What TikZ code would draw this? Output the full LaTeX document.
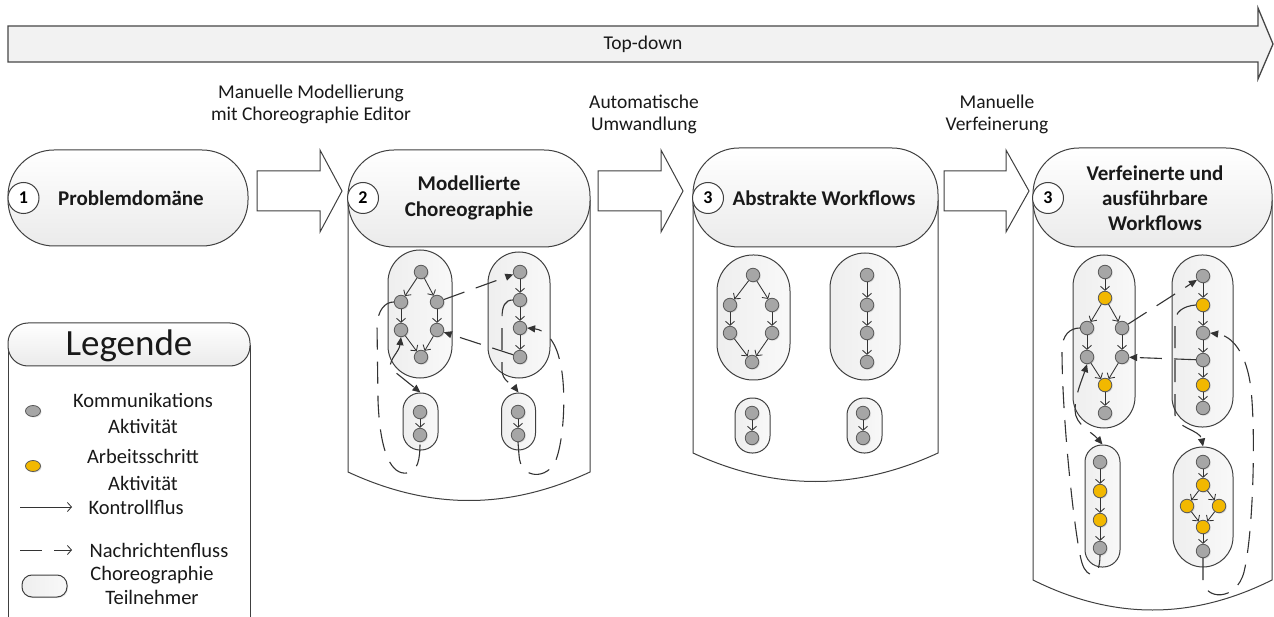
\documentclass[tikz,border=0pt]{standalone}
\usepackage{fontspec}
\setmainfont{Carlito}
\usetikzlibrary{arrows.meta,shadows,shapes.geometric}

\definecolor{edge}{HTML}{404040}
\definecolor{actgray}{HTML}{A6A6A6}
\definecolor{actgold}{HTML}{F2B800}
\definecolor{barfill}{HTML}{F2F2F2}

\begin{document}
\begin{tikzpicture}[x=1pt,y=-1pt,
  outline/.style={draw=edge,line width=1pt},
  panelbody/.style={outline,fill=white},
  headbox/.style={outline,rectangle,top color=white,bottom color=gray!16,inner sep=0pt},
  headtxt/.style={font=\bfseries\fontsize{21}{26}\selectfont,align=center,text=black!90},
  plaintxt/.style={font=\fontsize{19.5}{22}\selectfont,align=center,text=black!90},
  legtxt/.style={font=\fontsize{20.5}{26.5}\selectfont,align=center,text=black!90},
  numcirc/.style={outline,circle,fill=white,minimum size=31pt,inner sep=0pt,
    font=\bfseries\fontsize{18}{18}\selectfont},
  part/.style={outline,rectangle,left color=gray!13,right color=gray!5,inner sep=0pt},
  act/.style={circle,draw=black!65,line width=0.8pt,fill=actgray,minimum size=13.5pt,inner sep=0pt,
    drop shadow={opacity=0.25,shadow xshift=1pt,shadow yshift=-1pt}},
  work/.style={act,fill=actgold},
  cf/.style={draw=black!80,line width=0.85pt,-{Straight Barb[length=4pt,width=9pt]}},
  mf/.style={draw=black!80,line width=1.1pt,dash pattern=on 22pt off 12pt,
    -{Triangle[length=8pt,width=7pt]}},
  mfb/.style={mf,{Triangle[length=8pt,width=7pt]}-{Triangle[length=8pt,width=7pt]}},
  mfn/.style={mf,-},
  blockarrow/.style={outline,fill=white,line join=miter},
]
\useasboundingbox (0,0) rectangle (1274,617);
\fill[white] (0,0) rectangle (1274,617);

% ---------- top-down bar ----------
\draw[draw=gray!55!black,line width=1.3pt,fill=barfill,line join=miter]
  (8,26) -- (1258,26) -- (1258,8) -- (1273,44) -- (1258,79) -- (1258,62) -- (8,62) -- cycle;
\node[plaintxt] (topdown) at (643,44) {Top-down};

% ---------- step labels ----------
\node[plaintxt] (lab1) at (311,104) {Manuelle Modellierung\\mit Choreographie Editor};
\node[plaintxt] (lab2) at (644,114) {Automatische\\Umwandlung};
\node[plaintxt] (lab3) at (997,114) {Manuelle\\Verfeinerung};

% ---------- block arrows between the stages ----------
\draw[blockarrow] (257,171) -- (320,171) -- (320,150) -- (342,191) -- (320,232) -- (320,211) -- (257,211) -- cycle;
\draw[blockarrow] (598,171) -- (661,171) -- (661,150) -- (683,191) -- (661,232) -- (661,211) -- (598,211) -- cycle;
\draw[blockarrow] (944,171) -- (1006,171) -- (1006,150) -- (1029,191) -- (1006,232) -- (1006,211) -- (944,211) -- cycle;

% ---------- stage 1 ----------
\node[headbox,rounded corners=46pt,minimum width=240pt,minimum height=96pt] (h1) at (128,198) {};
\node[numcirc] (n1) at (23.5,198) {1};
\node[headtxt] (t1) at (131,198) {Problemdomäne};

% ---------- stage containers ----------
\draw[panelbody] (348,200) -- (348,472) .. controls (430,510) and (508,510) .. (590,472) -- (590,200);
\draw[panelbody] (693,200) -- (693,453) .. controls (775,491) and (856,491) .. (938,453) -- (938,200);
\draw[panelbody] (1033,200) -- (1033,580) .. controls (1113,620) and (1192,620) .. (1272,580) -- (1272,200);

\node[headbox,rounded corners=46pt,minimum width=242pt,minimum height=97pt] (h2) at (469,198.5) {};
\node[numcirc] (n2) at (363,198) {2};
\node[headtxt] (t2) at (469,198) {Modellierte\\Choreographie};

\node[headbox,rounded corners=46pt,minimum width=245pt,minimum height=99pt] (h3) at (815.5,197.5) {};
\node[numcirc] (n3) at (708,198) {3};
\node[headtxt] (t3) at (824,198) {Abstrakte Workflows};

\node[headbox,rounded corners=46pt,minimum width=239pt,minimum height=99pt] (h4) at (1152.5,197.5) {};
\node[numcirc] (n4) at (1048,198) {3};
\node[headtxt,font=\bfseries\fontsize{21}{25}\selectfont] (t4) at (1155,198) {Verfeinerte und\\ausführbare\\Workflows};

% ---------- stage 2: modelled choreography ----------
\node[part,rounded corners=32pt,minimum width=64pt,minimum height=128pt] (P2A) at (420,314) {};
\node[part,rounded corners=31pt,minimum width=62pt,minimum height=126pt] (P2B) at (519,315) {};
\node[part,rounded corners=17pt,minimum width=35pt,minimum height=57pt] (P2C) at (420.5,421.5) {};
\node[part,rounded corners=17pt,minimum width=34pt,minimum height=57pt] (P2D) at (518.5,421.5) {};

\node[act] (p2a) at (421,272) {};
\node[act] (p2b) at (401,302) {};
\node[act] (p2c) at (437,302) {};
\node[act] (p2d) at (401,330) {};
\node[act] (p2e) at (437,330) {};
\node[act] (p2f) at (421,357) {};
\node[act] (p2g) at (520,272) {};
\node[act] (p2h) at (520,300) {};
\node[act] (p2i) at (520,328) {};
\node[act] (p2j) at (520,357) {};
\node[act] (p2k) at (420,412) {};
\node[act] (p2l) at (420,435) {};
\node[act] (p2m) at (518,412) {};
\node[act] (p2n) at (518,435) {};

\draw[cf] (p2a) -- (p2b);
\draw[cf] (p2a) -- (p2c);
\draw[cf] (p2b) -- (p2d);
\draw[cf] (p2c) -- (p2e);
\draw[cf] (p2d) -- (p2f);
\draw[cf] (p2e) -- (p2f);
\draw[cf] (p2g) -- (p2h);
\draw[cf] (p2h) -- (p2i);
\draw[cf] (p2i) -- (p2j);
\draw[cf] (p2k) -- (p2l);
\draw[cf] (p2m) -- (p2n);

\draw[mf] (p2c) -- (p2g);
\draw[mf] (p2j) -- (p2e);
\draw[mf] (p2h.west) .. controls (505,300) and (502,306) .. (502,318) -- (502,370)
  .. controls (502,381) and (512,384) .. (P2D.north);
\draw[mfn] (p2b.west) .. controls (385,302) and (378,310) .. (377,325) -- (378,400)
  .. controls (380,455) and (392,475) .. (407,473) .. controls (418,471) and (420,460) .. (p2l.south);
\draw[mfb] (p2d.south) .. controls (399,352) and (390,358) .. (390,368) -- (P2C.north);
\draw[mf] (p2n.south) -- (519,455) .. controls (520,480) and (548,480) .. (556,460)
  .. controls (565,435) and (566,385) .. (560,362) .. controls (556,342) and (546,330) .. (p2i.east);

% ---------- stage 3: abstract workflows ----------
\node[part,rounded corners=36pt,minimum width=73pt,minimum height=125pt] (P3A) at (753.5,317.5) {};
\node[part,rounded corners=35pt,minimum width=70pt,minimum height=127pt] (P3B) at (865,316.5) {};
\node[part,rounded corners=17pt,minimum width=35pt,minimum height=55pt] (P3C) at (752.5,425.5) {};
\node[part,rounded corners=17pt,minimum width=35pt,minimum height=55pt] (P3D) at (864.5,425.5) {};

\node[act] (q1) at (753,275) {};
\node[act] (q2) at (730,305) {};
\node[act] (q3) at (772,305) {};
\node[act] (q4) at (730,333) {};
\node[act] (q5) at (772,333) {};
\node[act] (q6) at (752,362) {};
\node[act] (q7) at (867,275) {};
\node[act] (q8) at (867,305) {};
\node[act] (q9) at (867,333) {};
\node[act] (q10) at (867,362) {};
\node[act] (q11) at (752,413) {};
\node[act] (q12) at (752,438) {};
\node[act] (q13) at (863,413) {};
\node[act] (q14) at (863,438) {};

\draw[cf] (q1) -- (q2);
\draw[cf] (q1) -- (q3);
\draw[cf] (q2) -- (q4);
\draw[cf] (q3) -- (q5);
\draw[cf] (q4) -- (q6);
\draw[cf] (q5) -- (q6);
\draw[cf] (q7) -- (q8);
\draw[cf] (q8) -- (q9);
\draw[cf] (q9) -- (q10);
\draw[cf] (q11) -- (q12);
\draw[cf] (q13) -- (q14);

% ---------- stage 4: refined executable workflows ----------
\node[part,rounded corners=31pt,minimum width=62pt,minimum height=173pt] (P4A) at (1104,341.5) {};
\node[part,rounded corners=30pt,minimum width=61pt,minimum height=172pt] (P4B) at (1202.5,341) {};
\node[part,rounded corners=17pt,minimum width=35pt,minimum height=122pt] (P4C) at (1102.5,506) {};
\node[part,rounded corners=30pt,minimum width=60pt,minimum height=120pt] (P4D) at (1203,507) {};

\node[act]  (A1) at (1105,272) {};
\node[work] (A2) at (1105,298) {};
\node[act]  (A3) at (1087,328) {};
\node[act]  (A4) at (1122,328) {};
\node[act]  (A5) at (1087,357) {};
\node[act]  (A6) at (1122,357) {};
\node[work] (A7) at (1105,385) {};
\node[act]  (A8) at (1105,413) {};

\node[act]  (B1) at (1203,276) {};
\node[work] (B2) at (1203,305) {};
\node[act]  (B3) at (1203,333) {};
\node[act]  (B4) at (1203,360) {};
\node[work] (B5) at (1203,385) {};
\node[act]  (B6) at (1203,408) {};

\node[act]  (C1) at (1100,462) {};
\node[work] (C2) at (1100,491) {};
\node[work] (C3) at (1100,520) {};
\node[act]  (C4) at (1100,548) {};

\node[act]  (D1) at (1203,462) {};
\node[work] (D2) at (1203,485) {};
\node[work] (D3) at (1187,506) {};
\node[work] (D4) at (1219,506) {};
\node[work] (D5) at (1203,527) {};
\node[act]  (D6) at (1203,551) {};

\draw[cf] (A1) -- (A2);
\draw[cf] (A2) -- (A3);
\draw[cf] (A2) -- (A4);
\draw[cf] (A3) -- (A5);
\draw[cf] (A4) -- (A6);
\draw[cf] (A5) -- (A7);
\draw[cf] (A6) -- (A7);
\draw[cf] (A7) -- (A8);
\draw[cf] (B1) -- (B2);
\draw[cf] (B2) -- (B3);
\draw[cf] (B3) -- (B4);
\draw[cf] (B4) -- (B5);
\draw[cf] (B5) -- (B6);
\draw[cf] (C1) -- (C2);
\draw[cf] (C2) -- (C3);
\draw[cf] (C3) -- (C4);
\draw[cf] (D1) -- (D2);
\draw[cf] (D2) -- (D3);
\draw[cf] (D2) -- (D4);
\draw[cf] (D3) -- (D5);
\draw[cf] (D4) -- (D5);
\draw[cf] (D5) -- (D6);

\draw[mf] (A4) -- (B1);
\draw[mf] (B4) -- (A6);
\draw[mf] (B2.west) .. controls (1183,306) and (1175,312) .. (1175,322) -- (1175,415)
  .. controls (1176,428) and (1200,430) .. (P4D.north);
\draw[mf] (D6.south) -- (1203,580) .. controls (1204,600) and (1236,602) .. (1244,572)
  .. controls (1254,530) and (1256,420) .. (1250,382) .. controls (1245,352) and (1232,336) .. (B3.east);
\draw[mfn] (A3.west) .. controls (1070,328) and (1062,335) .. (1062,350)
  .. controls (1062,420) and (1075,540) .. (1082,563) .. controls (1087,579) and (1100,580) .. (C4.south);
\draw[mfb] (A5.south) .. controls (1082,380) and (1075,395) .. (1075,410)
  .. controls (1075,425) and (1092,432) .. (P4C.north);

% ---------- legend ----------
\draw[outline] (8,345) -- (8,630) (250,345) -- (250,630);
\node[headbox,rounded corners=20pt,minimum width=242pt,minimum height=43pt] (legh) at (129,344.5) {};
\node[font=\fontsize{37}{40}\selectfont,text=black!90] (legt) at (129,346) {Legende};

\node[act,ellipse,minimum width=15pt,minimum height=11pt] (lk) at (33,411) {};
\node[legtxt] (lkt) at (143,413.5) {Kommunikations\\Aktivität};
\node[work,ellipse,minimum width=15pt,minimum height=11pt] (lw) at (33,466) {};
\node[legtxt] (lwt) at (143,470) {Arbeitsschritt\\Aktivität};

\coordinate (lc1) at (20,507);
\coordinate (lc2) at (72,507);
\draw[cf] (lc1) -- (lc2);
\node[legtxt,anchor=west] (lct) at (85,507) {Kontrollflus};

\coordinate (lm1) at (20,550);
\coordinate (lm2) at (72,550);
\draw[cf,dash pattern=on 22pt off 12pt] (lm1) -- (lm2);
\node[legtxt,anchor=west] (lmt) at (86,550) {Nachrichtenfluss};

\node[part,rounded corners=10pt,minimum width=45pt,minimum height=22pt,
  drop shadow={opacity=0.2,shadow xshift=1pt,shadow yshift=-1pt}] (lp) at (44.5,586) {};
\node[legtxt,font=\fontsize{20.5}{24}\selectfont] (lpt) at (152,585) {Choreographie\\Teilnehmer};
\end{tikzpicture}
\end{document}
